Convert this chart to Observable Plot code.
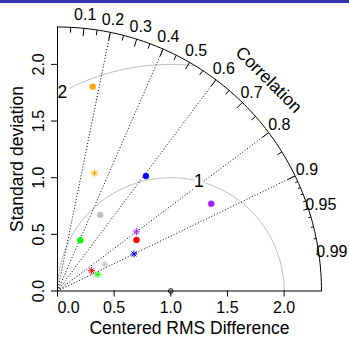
<!DOCTYPE html>
<html><head><meta charset="utf-8">
<script src="https://cdn.jsdelivr.net/npm/d3@7"></script>
<script src="https://cdn.jsdelivr.net/npm/@observablehq/plot@0.6"></script>
<style>
body{margin:0;background:#fff;}
#band{height:3px;background:#3333B3;}
#chart svg{display:block;overflow:visible;}
</style></head><body><div id="band"></div><div id="chart"></div>
<script>
// ---- data ----
const maxSd = 2.33;
const refSd = 1;
const sdTicks = [0, 0.5, 1, 1.5, 2];
const corrLines = [0.2, 0.4, 0.6, 0.8, 0.9];
const corrBigTicks = [0.1, 0.2, 0.3, 0.4, 0.5, 0.6, 0.7, 0.8, 0.9];
const corrMedTicks = [0.05, 0.15, 0.25, 0.35, 0.45, 0.55, 0.65, 0.75, 0.85, 0.95];
const corrSmallTicks = [0.91, 0.92, 0.93, 0.94, 0.95, 0.96, 0.97, 0.98, 0.99];
const corrLabels = [0.1, 0.2, 0.3, 0.4, 0.5, 0.6, 0.7, 0.8, 0.9, 0.95, 0.99];
const gammaLevels = [1, 2];
const modelColors = ["#FFA500", "#0000FF", "#BEBEBE", "#A020F0", "#FF0000", "#00FF00"];
const circleSd  = [1.83, 1.28, 0.77, 1.56, 0.83, 0.49];
const circleCor = [0.17, 0.61, 0.49, 0.87, 0.84, 0.41];
const starSd    = [1.09, 0.75, 0.48, 0.87, 0.35, 0.385];
const starCor   = [0.30, 0.90, 0.87, 0.80, 0.86, 0.925];

// ---- derived ----
const polar = (sd, c) => ({x: sd * c, y: sd * Math.sqrt(1 - c * c)});
const circles = circleSd.map((s, i) => ({...polar(s, circleCor[i]), color: modelColors[i]}));
const stars = starSd.map((s, i) => ({...polar(s, starCor[i]), color: modelColors[i]}));

const outerArc = d3.range(0, 91).map(a => ({x: maxSd * Math.cos(a * Math.PI / 180), y: maxSd * Math.sin(a * Math.PI / 180)}));

const gammaArcs = [];
const gammaLabels = [];
const labelPos = gammaLevels.length > 1 ? gammaLevels.map((g, i) => Math.round(45 + i * 25 / (gammaLevels.length - 1))) : [45];
gammaLevels.forEach((g, gi) => {
  const xs = [], ys = [];
  for (let i = 0; i <= 104; i++) { const t = i * 0.03; xs.push(Math.cos(t) * g + refSd); ys.push(Math.sin(t) * g); }
  let end = xs.findIndex(x => x < 0); end = end < 0 ? xs.length - 1 : end - 1;
  let start = -1; xs.forEach((x, i) => { if (x * x + ys[i] * ys[i] > maxSd * maxSd) start = i; });
  start = start + 1;
  for (let i = start; i <= end; i++) gammaArcs.push({x: xs[i], y: ys[i], g});
  const k = labelPos[gi] - 1;
  if (xs[k] > 0) gammaLabels.push({x: xs[k], y: ys[k], text: String(g)});
});

const tickSet = [
  ...corrBigTicks.map(c => ({c, f: 0.97})),
  ...corrMedTicks.map(c => ({c, f: 0.98})),
  ...corrSmallTicks.map(c => ({c, f: 0.99}))
];
const sq = c => Math.sqrt(1 - c * c);

const font = "'Liberation Sans', Arial, Helvetica, sans-serif";

const chart = Plot.plot({
  width: 349, height: 334,
  marginLeft: 57, marginRight: 28, marginTop: 23.5, marginBottom: 46.5,
  x: {domain: [0, maxSd]},
  y: {domain: [0, maxSd]},
  color: {type: "identity"},
  style: {fontFamily: font, background: "white", overflow: "visible"},
  marks: [
    Plot.line(gammaArcs, {x: "x", y: "y", z: "g", stroke: "#BEBEBE", strokeWidth: 1}),
    Plot.link(corrLines, {x1: 0, y1: 0, x2: c => c * maxSd, y2: c => sq(c) * maxSd, stroke: "black", strokeWidth: 1, strokeDasharray: "1,2"}),
    Plot.text(gammaLabels, {x: "x", y: "y", text: "text", fontSize: 17.5, fill: "black", stroke: "white", strokeWidth: 6, lineAnchor: "middle"}),
    Plot.line(outerArc, {x: "x", y: "y", stroke: "black", strokeWidth: 1}),
    Plot.link(tickSet, {x1: d => d.c * maxSd, y1: d => sq(d.c) * maxSd, x2: d => d.c * d.f * maxSd, y2: d => sq(d.c) * d.f * maxSd, stroke: "black", strokeWidth: 1}),
    Plot.text(corrLabels, {x: c => c * 1.05 * maxSd, y: c => sq(c) * 1.05 * maxSd, text: c => String(c), fontSize: 16, textAnchor: "middle", lineAnchor: "middle"}),
    Plot.text(["Correlation"], {x: maxSd * 0.8, y: maxSd * 0.8, text: d => d, rotate: 45, fontSize: 17.5, textAnchor: "middle", lineAnchor: "middle"}),
    // axes
    Plot.ruleY([0], {x1: 0, x2: maxSd, stroke: "black"}),
    Plot.ruleX([0], {y1: 0, y2: maxSd, stroke: "black"}),
    Plot.axisX({ticks: sdTicks, tickSize: 6, tickFormat: () => "", label: null}),
    Plot.axisY({ticks: sdTicks, tickSize: 6, tickFormat: () => "", label: null}),
    Plot.text(sdTicks.filter(d => d > 0), {x: d => d, y: 0, text: d => d.toFixed(1), fontSize: 16, textAnchor: "middle", lineAnchor: "top", dy: 11}),
    Plot.text(sdTicks.filter(d => d === 0), {x: d => d, y: 0, text: d => d.toFixed(1), fontSize: 16, textAnchor: "middle", lineAnchor: "top", dy: 11, dx: 11}),
    Plot.text(sdTicks, {x: 0, y: d => d, text: d => d.toFixed(1), fontSize: 16, textAnchor: "middle", lineAnchor: "bottom", rotate: -90, dx: -14}),
    Plot.text(["Centered RMS Difference"], {x: maxSd / 2, y: 0, text: d => d, fontSize: 17.5, textAnchor: "middle", lineAnchor: "top", dy: 31}),
    Plot.text(["Standard deviation"], {x: 0, y: maxSd / 2, text: d => d, fontSize: 17.5, textAnchor: "middle", lineAnchor: "bottom", rotate: -90, dx: -35}),
    // reference point
    Plot.dot([refSd], {x: d => d, y: 0, r: 2.3, stroke: "black", fill: "none", strokeWidth: 1}),
    // models
    Plot.dot(circles, {x: "x", y: "y", r: 3, fill: "color", stroke: "color", strokeWidth: 0.5}),
    Plot.dot(stars, {x: "x", y: "y", r: 2.4, symbol: "plus", stroke: "color", strokeWidth: 1}),
    Plot.dot(stars, {x: "x", y: "y", r: 2.4, symbol: "times", stroke: "color", strokeWidth: 1})
  ]
});
document.getElementById("chart").appendChild(chart);
</script></body></html>
